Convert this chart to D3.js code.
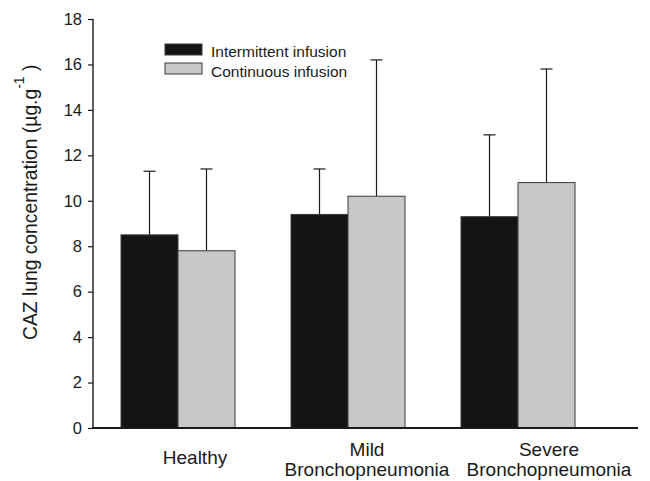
<!DOCTYPE html>
<html>
<head>
<meta charset="utf-8">
<script src="https://cdn.jsdelivr.net/npm/d3@7"></script>
<style>
  html, body { margin: 0; padding: 0; background: #fff; }
  svg { display: block; font-family: "Liberation Sans", Arial, Helvetica, sans-serif; }
</style>
</head>
<body>
<svg id="chart" width="650" height="481"></svg>
<script>
// ---- data ----
const categories = ["Healthy", "Mild Bronchopneumonia", "Severe Bronchopneumonia"];
const categoryLines = [["Healthy"], ["Mild", "Bronchopneumonia"], ["Severe", "Bronchopneumonia"]];
const seriesNames = ["Intermittent infusion", "Continuous infusion"];
const intermittentMean = [8.5, 9.4, 9.3];
const intermittentSD = [2.8, 2.0, 3.6];
const continuousMean = [7.8, 10.2, 10.8];
const continuousSD = [3.6, 6.0, 5.0];
const yTicks = [0, 2, 4, 6, 8, 10, 12, 14, 16, 18];

// ---- layout ----
const svg = d3.select("#chart");
const mLeft = 93, mRight = 638, mTop = 19, mBottom = 428;
const colors = ["#141414", "#c8c8ca"];

const y = d3.scaleLinear().domain([0, 18]).range([mBottom, mTop]);
const x = d3.scaleBand().domain(categories).range([93, 603]).paddingInner(56 / 170).paddingOuter(28 / 170);
const xs = d3.scaleBand().domain(seriesNames).range([0, x.bandwidth()]).padding(0);

const rows = [];
categories.forEach((c, i) => {
  rows.push({ cat: c, s: seriesNames[0], m: intermittentMean[i], sd: intermittentSD[i], col: colors[0] });
  rows.push({ cat: c, s: seriesNames[1], m: continuousMean[i], sd: continuousSD[i], col: colors[1] });
});

// error bars (behind bars)
const eb = svg.append("g");
rows.forEach(r => {
  const cx = x(r.cat) + xs(r.s) + xs.bandwidth() / 2;
  eb.append("line").attr("x1", cx).attr("x2", cx).attr("y1", y(r.m)).attr("y2", y(r.m + r.sd))
    .attr("stroke", "#1a1a1a").attr("stroke-width", 1.2);
  eb.append("line").attr("x1", cx - 6).attr("x2", cx + 6).attr("y1", y(r.m + r.sd)).attr("y2", y(r.m + r.sd))
    .attr("stroke", "#1a1a1a").attr("stroke-width", 1.2);
});

// bars
svg.append("g").selectAll("rect").data(rows).join("rect")
  .attr("x", d => x(d.cat) + xs(d.s))
  .attr("y", d => y(d.m))
  .attr("width", xs.bandwidth())
  .attr("height", d => y(0) - y(d.m))
  .attr("fill", d => d.col)
  .attr("stroke", "#3a3a3a")
  .attr("stroke-width", 1);

// y axis
const yAxis = svg.append("g").attr("transform", `translate(${mLeft},0)`)
  .call(d3.axisLeft(y).tickValues(yTicks).tickSize(5).tickPadding(6));
yAxis.select(".domain").attr("stroke", "#1a1a1a").attr("stroke-width", 1.4).attr("d", `M0,${mTop}V${mBottom}`);
yAxis.selectAll(".tick line").attr("stroke", "#1a1a1a").attr("stroke-width", 1.2);
yAxis.selectAll(".tick text").attr("font-size", 16.5).attr("fill", "#1a1a1a")
  .attr("font-family", "'Liberation Sans', Arial, sans-serif");

// x axis line
svg.append("line").attr("x1", mLeft - 1).attr("x2", mRight).attr("y1", mBottom).attr("y2", mBottom)
  .attr("stroke", "#1a1a1a").attr("stroke-width", 2);

// x labels
const labelDx = [17, 19, 31];
categories.forEach((c, i) => {
  const cx = x(c) + x.bandwidth() / 2 + labelDx[i];
  const lines = categoryLines[i];
  const t = svg.append("text").attr("text-anchor", "middle").attr("font-size", 19).attr("fill", "#1a1a1a");
  if (lines.length === 1) {
    t.append("tspan").attr("x", cx).attr("y", 464).text(lines[0]);
  } else {
    t.append("tspan").attr("x", cx).attr("y", 456).text(lines[0]);
    t.append("tspan").attr("x", cx).attr("y", 475.5).text(lines[1]);
  }
});

// y label
const yl = svg.append("text").attr("transform", "translate(37,340) rotate(-90)")
  .attr("font-size", 19.3).attr("fill", "#1a1a1a");
yl.append("tspan").text("CAZ lung concentration (µg.g");
yl.append("tspan").attr("font-size", 14).attr("dy", -13).text("-1");
yl.append("tspan").attr("dy", 13).text(" )");

// legend
const lg = svg.append("g");
seriesNames.forEach((s, i) => {
  lg.append("rect").attr("x", 165).attr("y", 44 + i * 19).attr("width", 37).attr("height", 11)
    .attr("fill", colors[i]).attr("stroke", "#3a3a3a").attr("stroke-width", 1);
  lg.append("text").attr("x", 211).attr("y", 56.5 + i * 20).attr("font-size", 15.5).attr("fill", "#1a1a1a").text(s);
});
</script>
</body>
</html>
